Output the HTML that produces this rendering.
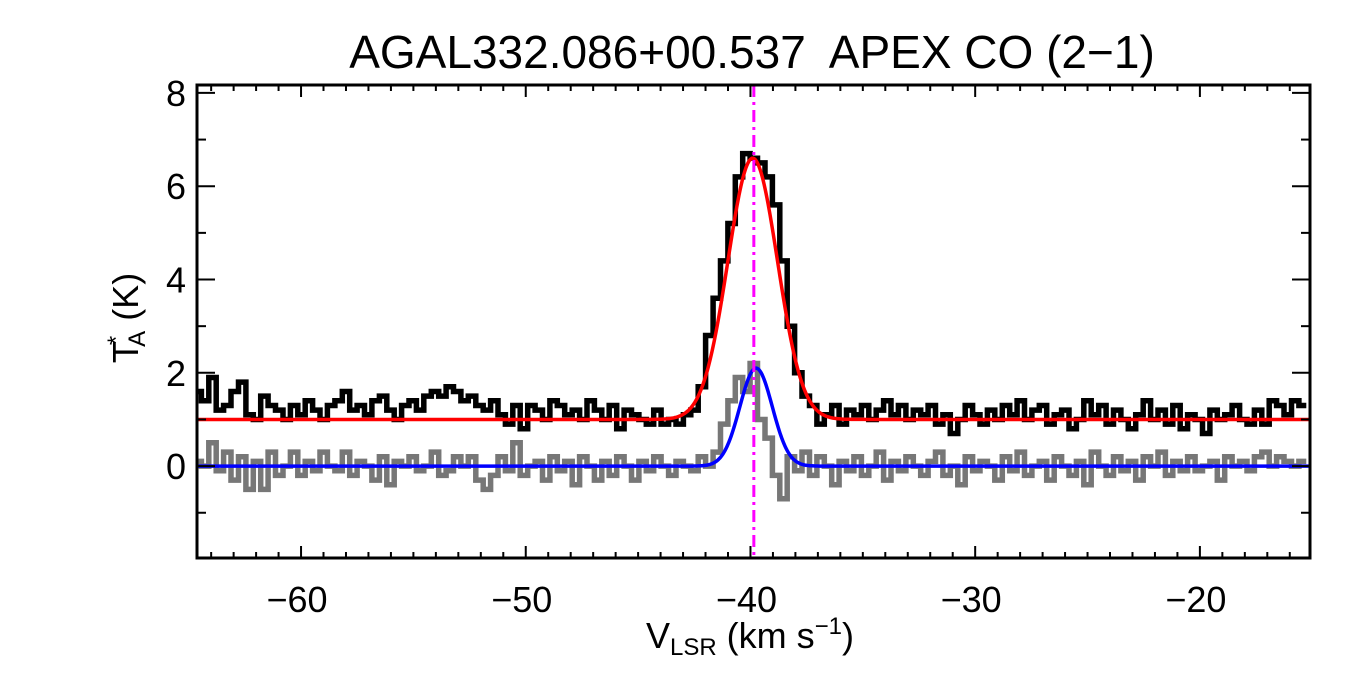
<!DOCTYPE html>
<html><head><meta charset="utf-8"><style>
html,body{margin:0;padding:0;background:#fff;width:1350px;height:675px;overflow:hidden}
svg text{font-family:"Liberation Sans",Arial,sans-serif;fill:#000}
</style></head><body>
<svg id="chart" width="1350" height="675" viewBox="0 0 1350 675" xmlns="http://www.w3.org/2000/svg">
<text x="752" y="68" font-size="46" text-anchor="middle" xml:space="preserve">AGAL332.086+00.537  APEX CO (2−1)</text>
<g id="plot"></g>
<text x="750" y="648" font-size="36" text-anchor="middle">V<tspan font-size="24" dy="7">LSR</tspan><tspan dy="-7"> (km s</tspan><tspan font-size="24" dy="-14">−1</tspan><tspan dy="14">)</tspan></text>
<text transform="translate(138,318) rotate(-90)" font-size="36" text-anchor="middle">T<tspan font-size="24" dy="-14" dx="-4">*</tspan><tspan font-size="24" dy="21" dx="-11">A</tspan><tspan dy="-7"> (K)</tspan></text>
</svg>
<script>
const v0 = -64.6;
const dv = 0.33;
const coData = [1.6,1.4,1.9,1.2,1.3,1.6,1.8,1.1,1.0,1.5,1.3,1.2,1.0,1.3,1.1,1.4,1.2,1.0,1.3,1.4,1.6,1.2,1.3,1.1,1.4,1.5,1.2,1.0,1.3,1.4,1.2,1.5,1.6,1.5,1.7,1.6,1.4,1.5,1.3,1.2,1.4,1.1,0.9,1.3,0.8,1.3,1.2,1.0,1.4,1.3,1.1,1.2,1.0,1.4,1.2,1.0,1.3,0.8,1.2,1.1,1.0,0.9,1.2,0.9,1.0,0.9,1.1,1.2,1.7,2.8,3.6,4.4,5.2,6.2,6.7,6.6,6.5,6.2,5.6,4.4,3.0,2.0,1.5,1.3,0.9,1.1,1.3,0.9,1.2,1.1,1.3,1.0,1.2,1.4,1.1,1.3,1.0,1.2,1.1,1.3,0.9,1.1,0.7,1.0,1.3,1.1,0.9,1.2,1.0,1.3,1.1,1.4,1.0,1.2,1.3,0.9,1.1,1.2,0.8,1.0,1.4,1.1,1.3,0.9,1.2,1.0,0.8,1.1,1.4,1.0,1.2,0.9,1.3,0.8,1.1,1.0,0.7,1.2,1.0,1.1,1.3,1.0,0.9,1.2,0.9,1.4,1.3,1.1,1.4,1.3];
const residData = [0.1,0.0,0.5,-0.1,0.3,-0.3,0.2,-0.5,0.1,-0.5,0.3,-0.2,0.0,0.3,-0.2,0.1,-0.1,0.3,0.0,-0.1,0.3,-0.2,0.1,0.0,-0.3,0.2,-0.4,0.1,0.0,0.2,-0.1,0.0,0.3,-0.2,-0.1,0.2,0.0,0.2,-0.3,-0.5,-0.2,0.2,-0.1,0.5,-0.2,0.0,0.1,-0.3,0.2,-0.1,0.1,-0.4,0.2,0.0,-0.3,0.1,-0.2,0.2,0.0,-0.3,0.1,-0.1,0.2,0.0,-0.2,0.1,0.0,-0.1,0.2,0.0,0.3,0.9,1.4,1.9,1.6,2.2,1.0,0.6,-0.2,-0.7,0.2,-0.1,0.3,-0.2,0.2,0.0,-0.4,0.1,-0.1,0.2,-0.2,0.0,0.3,-0.3,0.1,-0.1,0.2,0.0,-0.2,0.1,0.3,-0.2,0.0,-0.4,0.2,-0.1,0.1,0.0,-0.3,0.2,-0.1,0.3,-0.2,0.0,0.1,-0.3,0.2,0.0,-0.2,0.1,-0.4,0.3,0.0,-0.2,0.2,-0.1,0.1,-0.3,0.2,0.0,0.3,-0.2,0.1,-0.1,0.2,-0.1,0.0,0.1,-0.3,0.2,0.0,0.1,-0.1,0.2,0.3,0.0,0.2,0.1,0.0,0.1];
const redFit = {base:1.0, amp:5.6, center:-39.9, fwhm:2.6};
const blueFit = {base:0.0, amp:2.1, center:-39.75, fwhm:1.7};
const markerV = -39.85;
const xTicks = [-60,-50,-40,-30,-20];
const yTicks = [0,2,4,6,8];
const xMin=-64.63, xMax=-15.1, yMin=-1.97, yMax=8.17;
const L=197,R=1310,T=85,B=558;
const X=v=>L+(v-xMin)/(xMax-xMin)*(R-L);
const Y=t=>B-(t-yMin)/(yMax-yMin)*(B-T);
const NS="http://www.w3.org/2000/svg";
const g=document.getElementById('plot');
function mk(tag,attrs,parent){const e=document.createElementNS(NS,tag);for(const k in attrs)e.setAttribute(k,attrs[k]);(parent||g).appendChild(e);return e;}
const clip=mk('clipPath',{id:'pc'});mk('rect',{x:L,y:T,width:R-L,height:B-T},clip);
function stepPath(arr){let d='';arr.forEach((t,i)=>{const xa=Math.max(L,X(v0+dv*i-dv/2)),xb=Math.min(R,X(v0+dv*i+dv/2));d+=(i?'L':'M')+xa.toFixed(1)+','+Y(t).toFixed(1)+'L'+xb.toFixed(1)+','+Y(t).toFixed(1);});return d;}
const gr=mk('path',{d:stepPath(residData),fill:'none',stroke:'#777',"stroke-width":5.5,"clip-path":'url(#pc)'});


const bk=mk('path',{d:stepPath(coData),fill:'none',stroke:'#000',"stroke-width":5.5,"clip-path":'url(#pc)'});


function gauss(f){let d='';const s=f.fwhm/2.3548;for(let px=L;px<=R;px+=1){const v=xMin+(px-L)/(R-L)*(xMax-xMin);const t=f.base+f.amp*Math.exp(-0.5*((v-f.center)/s)**2);d+=(px===L?'M':'L')+px+','+Y(t).toFixed(1);}return d;}
const rf=mk('path',{d:gauss(redFit),fill:'none',stroke:'#f00',"stroke-width":3.5});


const bf=mk('path',{d:gauss(blueFit),fill:'none',stroke:'#00f',"stroke-width":3.5});


const mv=mk('line',{x1:X(markerV),x2:X(markerV),y1:T,y2:B,stroke:'#f0f',"stroke-width":3,"stroke-dasharray":'12,5,3,5'});


const fr=mk('rect',{x:L,y:T,width:R-L,height:B-T,fill:'none',stroke:'#000',"stroke-width":3});


for(let v=Math.ceil(xMin);v<=xMax;v++){const maj=v%10===0;const len=maj?12:6;const x=X(v);
 mk('line',{x1:x,x2:x,y1:B,y2:B-len,stroke:'#000',"stroke-width":2});
 mk('line',{x1:x,x2:x,y1:T,y2:T+len,stroke:'#000',"stroke-width":2});}
for(let t=Math.ceil(yMin);t<=yMax;t++){const maj=t%2===0;const len=maj?18:9;const y=Y(t);
 mk('line',{x1:L,x2:L+len,y1:y,y2:y,stroke:'#000',"stroke-width":2});
 mk('line',{x1:R,x2:R-len,y1:y,y2:y,stroke:'#000',"stroke-width":2});}
xTicks.forEach(v=>{const t=mk('text',{x:X(v)-4,y:612,"font-size":36,"text-anchor":'middle'});t.textContent='−'+Math.abs(v);
 
 });
yTicks.forEach(v=>{const t=mk('text',{x:186,y:Y(v)+13,"font-size":36,"text-anchor":'end'});t.textContent=v;
 
 });
</script>
</body></html>
